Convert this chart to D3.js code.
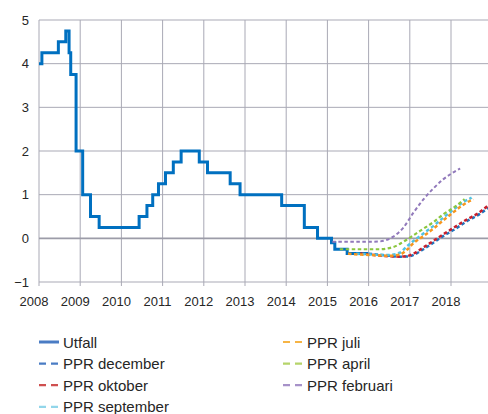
<!DOCTYPE html>
<html>
<head>
<meta charset="utf-8">
<script src="https://cdn.jsdelivr.net/npm/d3@7"></script>
<style>
  body { margin: 0; background: #fff; }
  svg { display: block; font-family: "Liberation Sans", Arial, sans-serif; }
</style>
</head>
<body>
<div class="chart"></div>
<script>

// Utfall: step dates (decimal year) and repo rate after each step
const utfallYears = [2008.0, 2008.07, 2008.47, 2008.65, 2008.73, 2008.77, 2008.9, 2009.06, 2009.25, 2009.46,
    2010.43, 2010.62, 2010.76, 2010.9, 2011.07, 2011.26, 2011.45, 2011.89, 2012.09, 2012.64, 2012.88,
    2013.89, 2014.44, 2014.76, 2015.1, 2015.18, 2015.48, 2015.99];
const utfallValues = [4.0, 4.25, 4.5, 4.75, 4.25, 3.75, 2.0, 1.0, 0.5, 0.25,
    0.5, 0.75, 1.0, 1.25, 1.5, 1.75, 2.0, 1.75, 1.5, 1.25, 1.0,
    0.75, 0.25, 0.0, -0.1, -0.25, -0.35, -0.35];

// Prognoser
const decYears = [2016.0, 2016.5, 2016.76, 2017.0, 2017.09, 2017.33, 2017.57, 2017.81, 2018.06, 2018.38, 2018.7, 2018.92];
const decValues = [-0.35, -0.4, -0.42, -0.41, -0.38, -0.25, -0.1, 0.05, 0.19, 0.39, 0.56, 0.71];

const oktYears = [2015.8, 2016.0, 2016.5, 2016.76, 2017.0, 2017.09, 2017.33, 2017.57, 2017.81, 2018.06, 2018.38, 2018.7, 2018.92];
const oktValues = [-0.35, -0.37, -0.41, -0.42, -0.39, -0.35, -0.21, -0.06, 0.09, 0.24, 0.43, 0.6, 0.77];

const sepYears = [2015.7, 2016.0, 2016.5, 2016.76, 2016.92, 2017.09, 2017.33, 2017.57, 2017.81, 2018.06, 2018.3, 2018.5];
const sepValues = [-0.35, -0.37, -0.38, -0.33, -0.19, -0.06, 0.11, 0.28, 0.47, 0.66, 0.83, 0.93];

const juliYears = [2015.5, 2015.75, 2016.0, 2016.5, 2016.76, 2016.92, 2017.09, 2017.33, 2017.57, 2017.81, 2018.06, 2018.3, 2018.54];
const juliValues = [-0.35, -0.37, -0.38, -0.4, -0.37, -0.27, -0.11, 0.05, 0.22, 0.41, 0.6, 0.77, 0.9];

const aprilYears = [2015.3, 2015.75, 2016.25, 2016.6, 2016.84, 2017.09, 2017.33, 2017.57, 2017.81, 2018.06, 2018.33];
const aprilValues = [-0.25, -0.25, -0.25, -0.2, -0.08, 0.07, 0.22, 0.37, 0.55, 0.7, 0.9];

const febYears = [2015.12, 2015.5, 2016.0, 2016.28, 2016.6, 2016.84, 2017.09, 2017.33, 2017.57, 2017.81, 2018.02, 2018.22];
const febValues = [-0.08, -0.08, -0.08, -0.07, 0.04, 0.24, 0.59, 0.89, 1.14, 1.35, 1.49, 1.6];

const yearTicks = [2008, 2009, 2010, 2011, 2012, 2013, 2014, 2015, 2016, 2017, 2018];
const rateTicks = [-1, 0, 1, 2, 3, 4, 5];

const series = [
    { name: "PPR december", years: decYears, values: decValues, color: "#1f73bd", legend: "#4a7cc4", width: 2.5 },
    { name: "PPR oktober", years: oktYears, values: oktValues, color: "#c8202c", legend: "#cf5050", width: 2.5 },
    { name: "PPR september", years: sepYears, values: sepValues, color: "#4fc3e6", legend: "#92d6ea", width: 2.5 },
    { name: "PPR juli", years: juliYears, values: juliValues, color: "#f7961e", legend: "#f6b445", width: 2.5 },
    { name: "PPR april", years: aprilYears, values: aprilValues, color: "#8cc63f", legend: "#b5d46a", width: 2.2 },
    { name: "PPR februari", years: febYears, values: febValues, color: "#9179bb", legend: "#a792c9", width: 2 }
];

const width = 488;
const height = 414;

const svg = d3.select(".chart")
    .append("svg")
    .attr("width", width)
    .attr("height", height);

const x = d3.scaleLinear()
    .domain([2008, 2019])
    .range([39, 492.2]);

const y = d3.scaleLinear()
    .domain([-1, 5])
    .range([282, 20]);

// Rutnät
svg.append("g")
    .selectAll("line")
    .data(yearTicks)
    .enter()
    .append("line")
    .attr("x1", d => x(d))
    .attr("x2", d => x(d))
    .attr("y1", y(5))
    .attr("y2", y(-1) + 4)
    .attr("stroke", "#a9a9b5")
    .attr("stroke-width", 1);

svg.append("g")
    .selectAll("line")
    .data(rateTicks)
    .enter()
    .append("line")
    .attr("x1", x(2008))
    .attr("x2", width)
    .attr("y1", d => y(d))
    .attr("y2", d => y(d))
    .attr("stroke", d => d === 0 ? "#9c9ca8" : "#a9a9b5")
    .attr("stroke-width", d => d === 0 ? 1.6 : 1);

// Axeltexter
svg.append("g")
    .selectAll("text")
    .data(rateTicks)
    .enter()
    .append("text")
    .attr("x", 29)
    .attr("y", d => y(d) + 4.5)
    .attr("text-anchor", "end")
    .attr("font-size", 13)
    .attr("fill", "#262626")
    .text(d => d < 0 ? "\u2212" + Math.abs(d) : d);

svg.append("g")
    .selectAll("text")
    .data(yearTicks)
    .enter()
    .append("text")
    .attr("x", d => x(d) - 5)
    .attr("y", 306)
    .attr("text-anchor", "middle")
    .attr("font-size", 13)
    .attr("fill", "#262626")
    .text(d => d);

// Linjer
const clip = svg.append("clipPath")
    .attr("id", "plot")
    .append("rect")
    .attr("x", x(2008))
    .attr("y", 0)
    .attr("width", width - x(2008))
    .attr("height", y(-1));

const plot = svg.append("g").attr("clip-path", "url(#plot)");

const stepLine = d3.line()
    .x(d => x(d[0]))
    .y(d => y(d[1]))
    .curve(d3.curveStepAfter);

plot.append("path")
    .datum(utfallYears.map((t, i) => [t, utfallValues[i]]))
    .attr("d", stepLine)
    .attr("fill", "none")
    .attr("stroke", "#0070c0")
    .attr("stroke-width", 3);

const smoothLine = d3.line()
    .x(d => x(d[0]))
    .y(d => y(d[1]))
    .curve(d3.curveMonotoneX);

series.forEach(s => {
    plot.append("path")
        .datum(s.years.map((t, i) => [t, s.values[i]]))
        .attr("d", smoothLine)
        .attr("fill", "none")
        .attr("stroke", s.color)
        .attr("stroke-width", s.width)
        .attr("stroke-dasharray", "3.5,2.5");
});

// Legend
const legendItems = [
    { name: "Utfall", color: "#4a7cc4", solid: true, col: 0, row: 0 },
    { name: series[0].name, color: series[0].legend, col: 0, row: 1 },
    { name: series[1].name, color: series[1].legend, col: 0, row: 2 },
    { name: series[2].name, color: series[2].legend, col: 0, row: 3 },
    { name: series[3].name, color: series[3].legend, col: 1, row: 0 },
    { name: series[4].name, color: series[4].legend, col: 1, row: 1 },
    { name: series[5].name, color: series[5].legend, col: 1, row: 2 }
];

const legend = svg.append("g")
    .selectAll("g")
    .data(legendItems)
    .enter()
    .append("g")
    .attr("transform", d => `translate(${d.col === 0 ? 39 : 283},${342 + d.row * 21.6})`);

legend.append("line")
    .attr("x1", 0)
    .attr("x2", d => d.solid ? 20 : 19)
    .attr("y1", 0)
    .attr("y2", 0)
    .attr("stroke", d => d.color)
    .attr("stroke-width", d => d.solid ? 3 : 2.2)
    .attr("stroke-dasharray", d => d.solid ? null : "7,5");

legend.append("text")
    .attr("x", d => d.solid ? 24 : 24)
    .attr("y", 5.5)
    .attr("font-size", 15)
    .attr("fill", "#262626")
    .text(d => d.name);

</script>
</body>
</html>
